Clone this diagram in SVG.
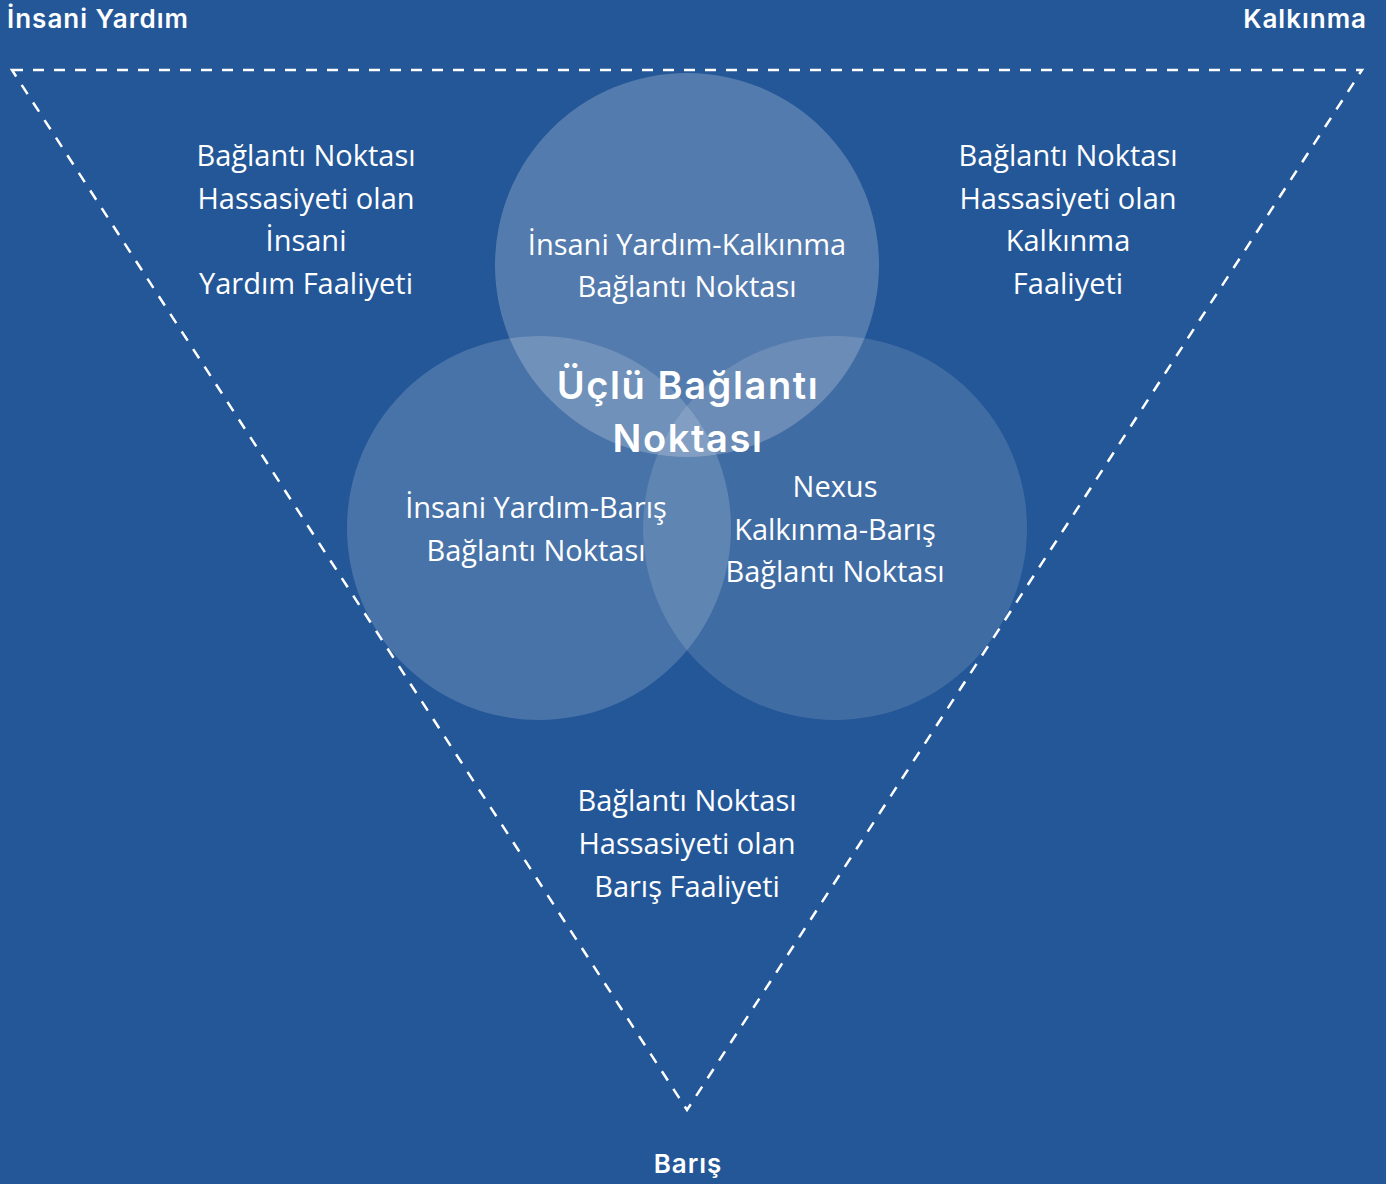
<svg xmlns="http://www.w3.org/2000/svg" width="1386" height="1184" viewBox="0 0 1386 1184">
<style>
.body{font-family:"Open Sans","Noto Sans",sans-serif;font-size:29px;fill:#fff;text-anchor:middle}
.head{font-family:Inter,Lato,"Open Sans",sans-serif;font-weight:600;fill:#fff}
.circ{fill:#fff}
</style>
<rect width="1386" height="1184" fill="#245797"/>
<g id="connectors">
<polygon points="12,70 1362,70 687,1110" fill="none" stroke="#fff" stroke-width="2.5" stroke-dasharray="11 10"/>
</g>
<g id="circle-humanitarian-development">
<circle class="circ" cx="687" cy="265" r="192" fill-opacity="0.22"/>
</g>
<g id="circle-humanitarian-peace">
<circle class="circ" cx="539" cy="528" r="192" fill-opacity="0.17"/>
</g>
<g id="circle-development-peace">
<circle class="circ" cx="835" cy="528" r="192" fill-opacity="0.13"/>
</g>
<g id="label-humanitarian">
<text class="head" x="7" y="28" font-size="26" letter-spacing="1">İnsani Yardım</text>
</g>
<g id="label-development">
<text class="head" x="1367" y="28" font-size="26" letter-spacing="1" text-anchor="end">Kalkınma</text>
</g>
<g id="label-peace">
<text class="head" x="688" y="1173" font-size="26" letter-spacing="1" text-anchor="middle">Barış</text>
</g>
<g id="activity-humanitarian">
<text class="body" x="306" y="166">Bağlantı Noktası</text>
<text class="body" x="306" y="209">Hassasiyeti olan</text>
<text class="body" x="306" y="251">İnsani</text>
<text class="body" x="306" y="294">Yardım Faaliyeti</text>
</g>
<g id="activity-development">
<text class="body" x="1068" y="166">Bağlantı Noktası</text>
<text class="body" x="1068" y="209">Hassasiyeti olan</text>
<text class="body" x="1068" y="251">Kalkınma</text>
<text class="body" x="1068" y="294">Faaliyeti</text>
</g>
<g id="activity-peace">
<text class="body" x="687" y="811">Bağlantı Noktası</text>
<text class="body" x="687" y="854">Hassasiyeti olan</text>
<text class="body" x="687" y="897">Barış Faaliyeti</text>
</g>
<g id="nexus-hd">
<text class="body" x="687" y="255">İnsani Yardım-Kalkınma</text>
<text class="body" x="687" y="297">Bağlantı Noktası</text>
</g>
<g id="nexus-hp">
<text class="body" x="536" y="518">İnsani Yardım-Barış</text>
<text class="body" x="536" y="561">Bağlantı Noktası</text>
</g>
<g id="nexus-dp">
<text class="body" x="835" y="497">Nexus</text>
<text class="body" x="835" y="540">Kalkınma-Barış</text>
<text class="body" x="835" y="582">Bağlantı Noktası</text>
</g>
<g id="triple-nexus">
<text class="head" x="688" y="399" font-size="38" letter-spacing="1.6" text-anchor="middle">Üçlü Bağlantı</text>
<text class="head" x="688" y="452" font-size="38" letter-spacing="1.6" text-anchor="middle">Noktası</text>
</g>
</svg>
